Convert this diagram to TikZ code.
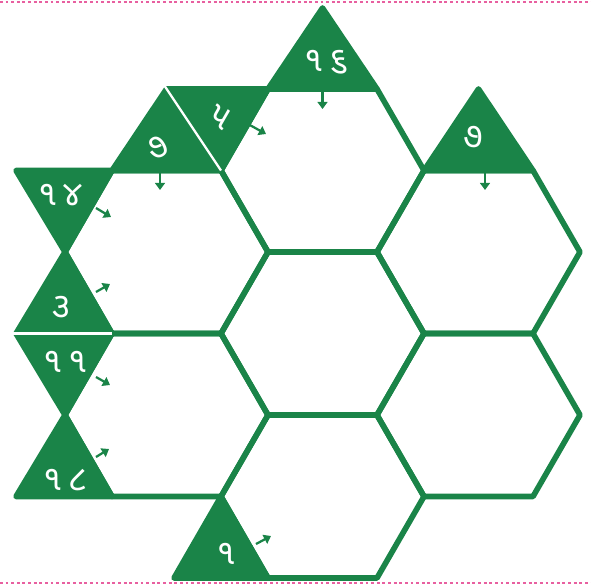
\documentclass[tikz,border=0pt]{standalone}
\usepackage{fontspec}
\newfontfamily\gujfont[Script=Gujarati]{Noto Sans Gujarati UI}
\usetikzlibrary{arrows.meta}
\definecolor{puzgreen}{RGB}{26,132,72}
\definecolor{pagepink}{RGB}{232,96,160}
\tikzset{
    hexcell/.style={draw=puzgreen, line width=4pt, line join=round},
    cluebox/.style={fill=puzgreen, draw=puzgreen, line width=4pt, line join=round},
    clue/.style={text=white, inner sep=0pt, font=\gujfont\fontsize{25}{25}\selectfont},
    pointer/.style={draw=puzgreen, line width=1.6pt, -{Triangle[length=5pt,width=7pt]}}
}
\begin{document}
\begin{tikzpicture}[x=0.025cm, y=-0.025cm]
    \useasboundingbox (0,0) rectangle (591,585);

    % page border
    \draw[pagepink, line width=1pt, dash pattern=on 2pt off 2pt] (0,2) -- (591,2);
    \draw[pagepink, line width=1pt, dash pattern=on 2pt off 2pt] (0,583) -- (591,583);

    % the seven cells
    \foreach \cx/\cy in {322.5/170.5, 322.5/333.5, 322.5/496.5, 166.5/252, 166.5/415, 478.5/252, 478.5/415}
        \draw[hexcell, shift={(\cx,\cy)}] (-101.5,0) -- (-54.5,-81.5) -- (54.5,-81.5) -- (101.5,0) -- (54.5,81.5) -- (-54.5,81.5) -- cycle;

    % clue triangles
    \filldraw[cluebox] (268,89) -- (377,89) -- (322.5,8) -- cycle;
    \filldraw[cluebox] (166.5,89) -- (268,89) -- (221,170.5) -- cycle;
    \filldraw[cluebox] (112,170.5) -- (221,170.5) -- (166.5,89) -- cycle;
    \filldraw[cluebox] (424,170.5) -- (533,170.5) -- (478.5,89) -- cycle;
    \filldraw[cluebox] (16,170.5) -- (112,170.5) -- (65,252) -- cycle;
    \filldraw[cluebox] (65,252) -- (112,333.5) -- (16,333.5) -- cycle;
    \filldraw[cluebox] (16,333.5) -- (112,333.5) -- (65,415) -- cycle;
    \filldraw[cluebox] (65,415) -- (112,496.5) -- (16,496.5) -- cycle;
    \filldraw[cluebox] (221,496.5) -- (268,578) -- (174,578) -- cycle;

    % white splits
    \draw[white, line width=1.6pt] (164,85) -- (221,170.5);
    \draw[white, line width=1.6pt] (12,333.5) -- (112,333.5);

    \node[clue] (c16) at (326,62) {૧\hspace{4pt}૬};
    \node[clue, rotate=-30] (c5) at (220,117) {૫};
    \node[clue, rotate=30] (c7a) at (158,148) {૭};
    \node[clue] (c7b) at (473,137) {૭};
    \node[clue] (c14) at (60,195) {૧\hspace{4pt}૪};
    \node[clue] (c3) at (61,307) {૩};
    \node[clue] (c11) at (65,362) {૧\hspace{4pt}૧};
    \node[clue] (c18) at (65,480) {૧\hspace{4pt}૮};
    \node[clue] (c1) at (226,554) {૧};

    % arrows into the cells
    \coordinate (p16) at (322.5,90);   \coordinate (q16) at (322.5,109);
    \coordinate (p5) at (248,124);     \coordinate (q5) at (266,134);
    \coordinate (p7a) at (160,171);    \coordinate (q7a) at (160,190);
    \coordinate (p7b) at (485,171);    \coordinate (q7b) at (485,190);
    \coordinate (p14) at (96,208);     \coordinate (q14) at (111,217);
    \coordinate (p3) at (96,292);      \coordinate (q3) at (110,284);
    \coordinate (p11) at (96,377);     \coordinate (q11) at (110,385);
    \coordinate (p18) at (96,457);     \coordinate (q18) at (109,449);
    \coordinate (p1) at (256,544);     \coordinate (q1) at (271,536);
    \foreach \n in {16,5,7a,7b,14,3,11,18,1}
        \draw[pointer] (p\n) -- (q\n);

\end{tikzpicture}
\end{document}
